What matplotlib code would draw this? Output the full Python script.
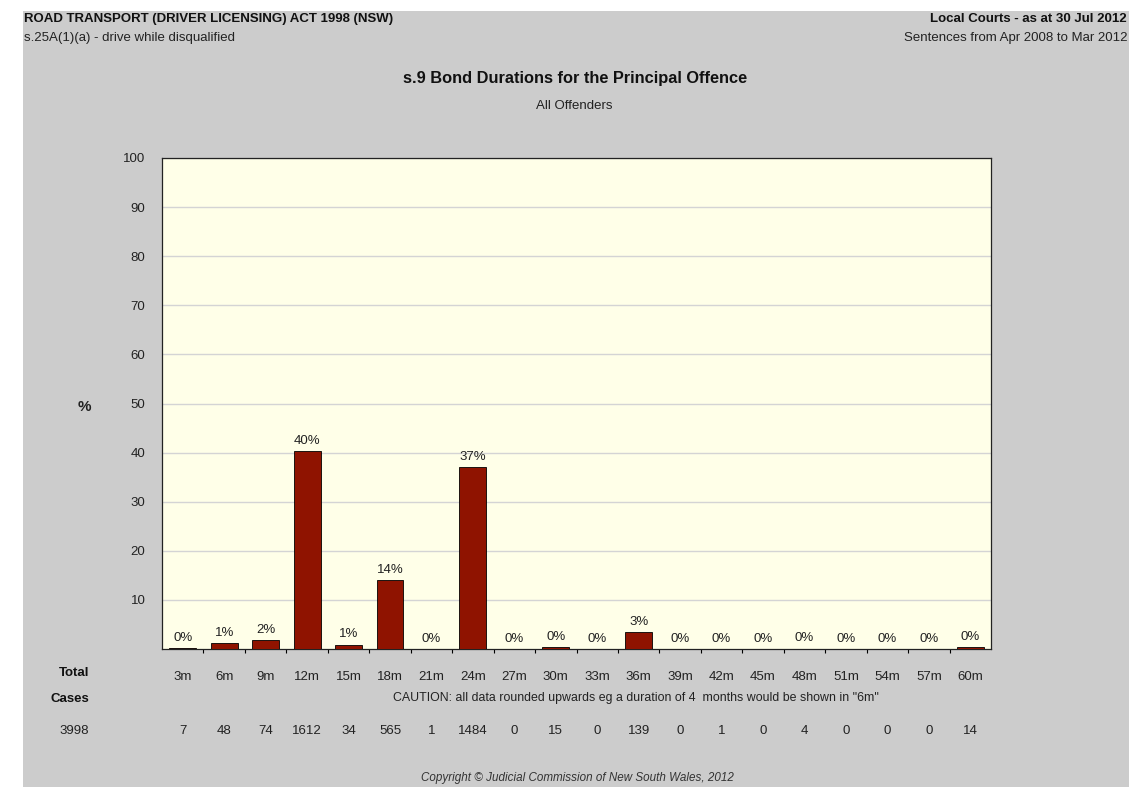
import matplotlib
matplotlib.use('Agg')
import matplotlib.pyplot as plt
import matplotlib.transforms as mtransforms
from matplotlib.patches import Rectangle

plt.rcParams['font.family'] = ['Liberation Sans', 'DejaVu Sans']

### data ###
durations = ['3m', '6m', '9m', '12m', '15m', '18m', '21m', '24m', '27m', '30m',
             '33m', '36m', '39m', '42m', '45m', '48m', '51m', '54m', '57m', '60m']
percent = [0.2, 1.2, 1.9, 40.3, 0.9, 14.1, 0.0, 37.1, 0.0, 0.4,
           0.0, 3.5, 0.0, 0.0, 0.0, 0.1, 0.0, 0.0, 0.0, 0.4]
pct_labels = ['0%', '1%', '2%', '40%', '1%', '14%', '0%', '37%', '0%', '0%',
              '0%', '3%', '0%', '0%', '0%', '0%', '0%', '0%', '0%', '0%']
cases = [7, 48, 74, 1612, 34, 565, 1, 1484, 0, 15, 0, 139, 0, 1, 0, 4, 0, 0, 0, 14]
total_cases = 3998
y_ticks = [10, 20, 30, 40, 50, 60, 70, 80, 90, 100]

W, H = 1138, 787
fig = plt.figure(figsize=(W / 100, H / 100), dpi=100)
fig.patch.set_facecolor('white')

# grey page background
fig.patches.append(Rectangle((23 / W, 0), (1129 - 23) / W, 1 - 11 / H,
                             transform=fig.transFigure, facecolor='#cccccc',
                             edgecolor='none', zorder=-10))

def fx(px):
    return px / W

def fy(py):
    return 1 - py / H

txt = '#222222'
fs = 9.5
fig.text(fx(24), fy(19), 'ROAD TRANSPORT (DRIVER LICENSING) ACT 1998 (NSW)',
         fontsize=fs, fontweight='bold', ha='left', va='center', color='#111111')
fig.text(fx(24), fy(38), 's.25A(1)(a) - drive while disqualified',
         fontsize=fs, ha='left', va='center', color=txt)
fig.text(fx(1127), fy(19), 'Local Courts - as at 30 Jul 2012',
         fontsize=fs, fontweight='bold', ha='right', va='center', color='#111111')
fig.text(fx(1127), fy(38), 'Sentences from Apr 2008 to Mar 2012',
         fontsize=fs, ha='right', va='center', color=txt)
fig.text(fx(575), fy(78), 's.9 Bond Durations for the Principal Offence',
         fontsize=11.8, fontweight='bold', ha='center', va='center', color='#111111')
fig.text(fx(574), fy(106), 'All Offenders', fontsize=fs, ha='center', va='center', color=txt)
fig.text(fx(84), fy(407), '%', fontsize=11, fontweight='bold', ha='center', va='center', color=txt)

ax = fig.add_axes([fx(162), fy(649), (991 - 162) / W, (649 - 158) / H])
ax.set_facecolor('#ffffe8')

x = list(range(len(durations)))
ax.bar(x, percent, width=0.65, color='#8f1300', edgecolor='black', linewidth=0.6, zorder=3)
for xi, v, lab in zip(x, percent, pct_labels):
    ax.annotate(lab, (xi, v), xytext=(0, 3), textcoords='offset points',
                ha='center', va='bottom', fontsize=fs, color=txt)

ax.set_xlim(-0.5, len(durations) - 0.5)
ax.set_ylim(0, 100)
ax.set_yticks(y_ticks)
ax.set_yticklabels([str(t) for t in y_ticks], fontsize=fs, color=txt)
ax.tick_params(axis='y', length=0, pad=12)
ax.grid(axis='y', color='#d4d4d4', linewidth=1, zorder=0)
ax.set_axisbelow(True)

ax.set_xticks(x)
ax.set_xticklabels(durations, fontsize=fs, color=txt)
ax.tick_params(axis='x', which='major', length=0, pad=16)
ax.set_xticks([i + 0.5 for i in x[:-1]], minor=True)
ax.tick_params(axis='x', which='minor', length=3, direction='out', width=0.8)

for s in ax.spines.values():
    s.set_linewidth(0.9)
    s.set_color('#222222')

# rows below the chart
trans = mtransforms.blended_transform_factory(ax.transData, fig.transFigure)
for xi, c in zip(x, cases):
    ax.text(xi, fy(731), str(c), transform=trans, ha='center', va='center',
            fontsize=fs, color=txt)

fig.text(fx(89), fy(673), 'Total', fontsize=fs, fontweight='bold', ha='right', va='center', color='#111111')
fig.text(fx(89), fy(699), 'Cases', fontsize=fs, fontweight='bold', ha='right', va='center', color='#111111')
fig.text(fx(89), fy(731), str(total_cases), fontsize=fs, ha='right', va='center', color=txt)
fig.text(fx(636), fy(698),
         'CAUTION: all data rounded upwards eg a duration of 4  months would be shown in "6m"',
         fontsize=8.9, ha='center', va='center', color=txt)
fig.text(fx(577), fy(778), 'Copyright \u00a9 Judicial Commission of New South Wales, 2012',
         fontsize=8.4, style='italic', ha='center', va='center', color='#333333')

fig.savefig('out.png', dpi=100)
